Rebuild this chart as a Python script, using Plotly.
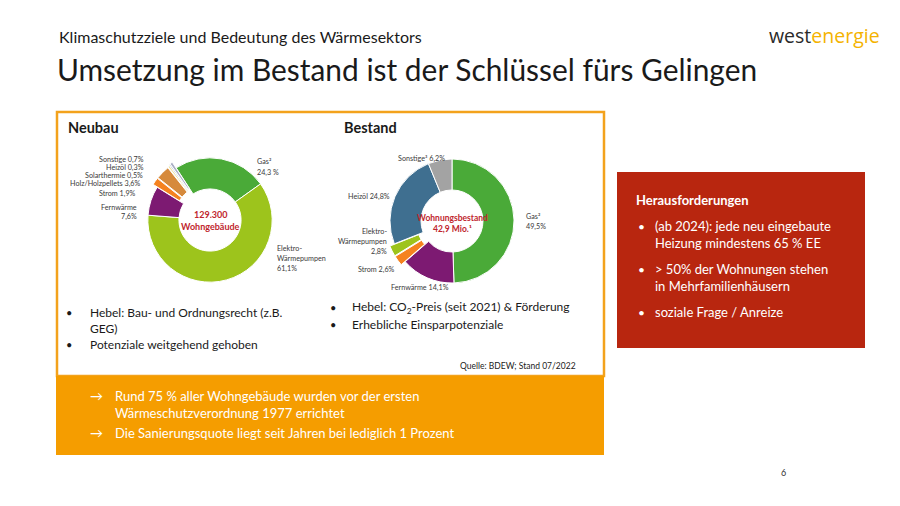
import plotly.graph_objects as go

W, H = 900, 506
FONT = "Lato"

# ---- data ----
neubau_labels = ["Gas²", "Elektro-Wärmepumpen", "Fernwärme", "Strom", "Holz/Holzpellets",
                 "Solarthermie", "Heizöl", "Sonstige"]
neubau_values = [24.3, 61.1, 7.6, 1.9, 3.6, 0.5, 0.3, 0.7]
neubau_colors = ["#4aaa38", "#9dc41c", "#7d1a72", "#f5821f", "#d68a3c", "#efe3a0", "#8aa2b8", "#a9aec4"]
neubau_pull = [0, 0, 0, 0.08, 0.08, 0.09, 0.1, 0.11]

bestand_labels = ["Gas²", "Fernwärme", "Strom", "Elektro-Wärmepumpen", "Heizöl", "Sonstige³"]
bestand_values = [49.5, 14.1, 2.6, 2.8, 24.8, 6.2]
bestand_colors = ["#4aaa38", "#7d1a72", "#f5821f", "#9dc41c", "#3f6f90", "#a3a3a3"]
bestand_pull = [0, 0, 0.08, 0.08, 0, 0]


def px(x):
    return x / W


def py(y):
    return 1 - y / H


def dom(cx, cy, r):
    return dict(x=[px(cx - r), px(cx + r)], y=[py(cy + r), py(cy - r)])


fig = go.Figure()
fig.add_trace(go.Pie(labels=neubau_labels, values=neubau_values, sort=False, direction="clockwise",
                     rotation=327, hole=0.5, pull=neubau_pull, textinfo="none", hoverinfo="skip",
                     marker=dict(colors=neubau_colors, line=dict(color="white", width=1)),
                     domain=dom(210, 220, 69), showlegend=False))
fig.add_trace(go.Pie(labels=bestand_labels, values=bestand_values, sort=False, direction="clockwise",
                     rotation=0, hole=0.5, pull=bestand_pull, textinfo="none", hoverinfo="skip",
                     marker=dict(colors=bestand_colors, line=dict(color="white", width=1)),
                     domain=dom(452, 221, 67), showlegend=False))

shapes = [
    dict(type="rect", x0=px(57), x1=px(604), y0=py(376), y1=py(112), line=dict(color="#f3a21c", width=2.5),
         fillcolor="rgba(0,0,0,0)"),
    dict(type="rect", x0=px(56), x1=px(604), y0=py(455), y1=py(376), line=dict(width=0), fillcolor="#f59d00"),
    dict(type="rect", x0=px(617), x1=px(865), y0=py(348), y1=py(172), line=dict(width=0), fillcolor="#b8260f"),
]

ann = []


def T(x, y, text, size=12, color="#1a1a1a", anchor="left", bold=False, family=FONT, weight=None):
    if bold:
        text = "<b>" + text + "</b>"
    f = dict(size=size, color=color, family=family)
    if weight:
        f["weight"] = weight
    ann.append(dict(x=px(x), y=py(y), xref="paper", yref="paper", text=text, showarrow=False,
                    xanchor=anchor, yanchor="middle", font=f))


# header
T(57, 36, "Klimaschutzziele und Bedeutung des Wärmesektors", 16)
T(55, 69, "Umsetzung im Bestand ist der Schlüssel fürs Gelingen", 29.9)
T(767, 35, "<span style='color:#2a2a2a'>west</span><span style='color:#f4b300'>energie</span>", 19.5,
  anchor="left", family="Open Sans", weight=500)

T(66, 128, "Neubau", 14.5, bold=True)
T(342, 128, "Bestand", 14.5, bold=True)

# Neubau labels
lab = "#3a3a3a"
ls = 7.2
T(146, 160, "Sonstige 0,7%", ls, lab, "right")
T(146, 167.5, "Heizöl 0,3%", ls, lab, "right")
T(145, 175, "Solarthermie 0,5%", ls, lab, "right")
T(143, 183.5, "Holz/Holzpellets 3,6%", ls, lab, "right")
T(138, 193, "Strom 1,9%", ls, lab, "right")
T(139, 207, "Fernwärme", ls, lab, "right")
T(139, 217, "7,6%", ls, lab, "right")
T(255, 162, "Gas²", ls, lab)
T(255, 172, "24,3 %", ls, lab)
T(275, 248, "Elektro-", ls, lab)
T(275, 258, "Wärmepumpen", ls, lab)
T(275, 268, "61,1%", ls, lab)
T(210, 214, "129.300", 9, "#c0262d", "center", bold=True)
T(210, 226, "Wohngebäude", 9, "#c0262d", "center", bold=True)

# Bestand labels
T(421, 158, "Sonstige³ 6,2%", ls, lab, "center")
T(392, 196, "Heizöl 24,8%", ls, lab, "right")
T(389, 231, "Elektro-", ls, lab, "right")
T(389, 241, "Wärmepumpen", ls, lab, "right")
T(389, 251, "2,8%", ls, lab, "right")
T(397, 269, "Strom 2,6%", ls, lab, "right")
T(420, 287, "Fernwärme 14,1%", ls, lab, "center")
T(524, 216, "Gas²", ls, lab)
T(524, 226, "49,5%", ls, lab)
T(452, 218, "Wohnungsbestand", 8.5, "#c0262d", "center", bold=True)
T(452, 229, "42,9 Mio.¹", 8.5, "#c0262d", "center", bold=True)

# bullets
bs = 12
T(64, 312, "•", 11)
T(88, 312, "Hebel: Bau- und Ordnungsrecht (z.B.", bs)
T(88, 328, "GEG)", bs)
T(64, 344, "•", 11)
T(88, 344, "Potenziale weitgehend gehoben", bs)
T(328, 307, "•", 11)
T(350, 307, "Hebel: CO<sub>2</sub>-Preis (seit 2021) & Förderung", bs)
T(328, 324, "•", 11)
T(350, 324, "Erhebliche Einsparpotenziale", bs)
T(578, 366, "Quelle: BDEW; Stand 07/2022", 8.5, anchor="right")

# orange box
os_ = 13
T(88, 396, "→", os_, "white")
T(113, 396, "Rund 75 % aller Wohngebäude wurden vor der ersten", os_, "white")
T(113, 413, "Wärmeschutzverordnung 1977 errichtet", os_, "white")
T(88, 433, "→", os_, "white")
T(113, 433, "Die Sanierungsquote liegt seit Jahren bei lediglich 1 Prozent", os_, "white")

# red box
rs = 13
T(634, 200, "Herausforderungen", 13, "white", bold=True)
T(636, 226, "•", 12, "white")
T(653, 226, "(ab 2024): jede neu eingebaute", rs, "white")
T(653, 243, "Heizung mindestens 65 % EE", rs, "white")
T(636, 269, "•", 12, "white")
T(653, 269, "> 50% der Wohnungen stehen", rs, "white")
T(653, 286, "in Mehrfamilienhäusern", rs, "white")
T(636, 312, "•", 12, "white")
T(653, 312, "soziale Frage / Anreize", rs, "white")

T(783, 472, "6", 9, "#333333", "center")

fig.update_layout(width=W, height=H, margin=dict(l=0, r=0, t=0, b=0), paper_bgcolor="white",
                  plot_bgcolor="white", shapes=shapes, annotations=ann, showlegend=False,
                  font=dict(family=FONT))
fig.write_html("out.html", config={"displayModeBar": False},
               post_script="document.body.style.margin='0';document.body.style.padding='0';")
